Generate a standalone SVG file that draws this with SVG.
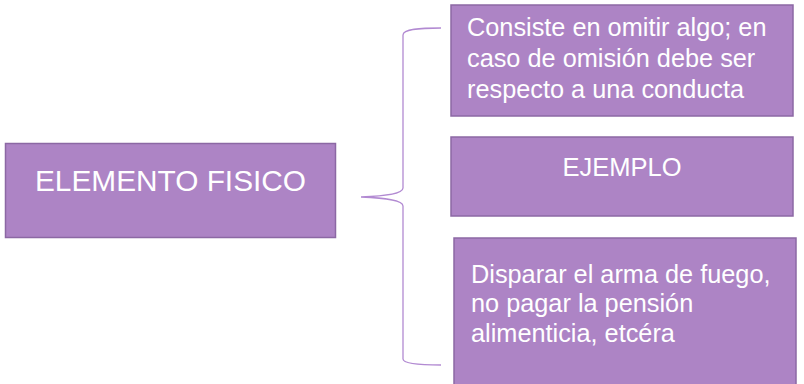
<svg xmlns="http://www.w3.org/2000/svg" width="804" height="384" viewBox="0 0 804 384">
<style>
.box{fill:#ad84c5;stroke:#8c68a4;stroke-width:1.5}
.t{font-family:"Liberation Sans",Arial,sans-serif;fill:#ffffff}
.brace{fill:none;stroke:#b28ad2;stroke-width:1.3}
</style>
<rect width="804" height="384" fill="#ffffff"/>
<g id="connectors">
<path class="brace" d="M441,28 C420,28 403,29 403,35 L403,188 C403,194 385,196 361,197 C385,198 403,200 403,206 L403,359 C403,364 420,365 441,365"/>
</g>
<g id="elemento-fisico">
<rect class="box" x="5.5" y="143.5" width="330" height="94"/>
<text class="t" x="170.5" y="191" font-size="29.8" text-anchor="middle">ELEMENTO FISICO</text>
</g>
<g id="consiste">
<rect class="box" x="451" y="5" width="342" height="111"/>
<text class="t" font-size="25.3"><tspan x="467" y="36">Consiste en omitir algo; en</tspan><tspan x="467" y="67">caso de omisión debe ser</tspan><tspan x="467" y="98">respecto a una conducta</tspan></text>
</g>
<g id="ejemplo">
<rect class="box" x="451" y="137" width="342" height="79"/>
<text class="t" x="622" y="176" font-size="25.5" text-anchor="middle">EJEMPLO</text>
</g>
<g id="disparar">
<rect class="box" x="454" y="238" width="342" height="150"/>
<text class="t" font-size="25.3"><tspan x="471" y="283">Disparar el arma de fuego,</tspan><tspan x="471" y="312">no pagar la pensión</tspan><tspan x="471" y="342">alimenticia, etcéra</tspan></text>
</g>
</svg>
